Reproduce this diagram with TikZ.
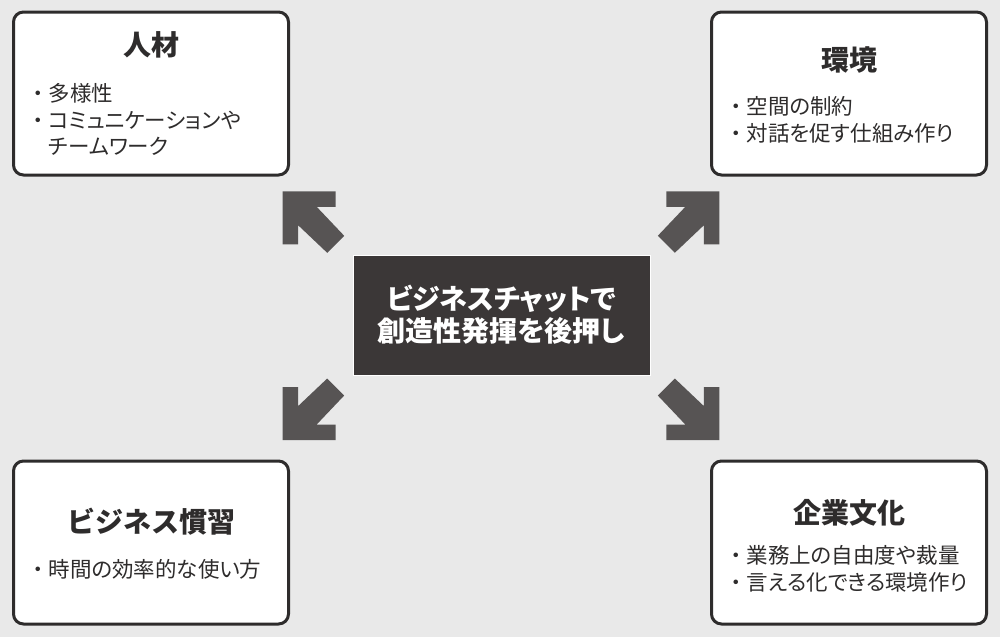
\documentclass[tikz,border=0pt]{standalone}
\usepackage{fontspec}
\usepackage{tikz}
\usetikzlibrary{positioning}
\newfontfamily\jpfont{Noto Sans CJK JP}
\newfontfamily\jpprop[RawFeature=+palt]{Noto Sans CJK JP}
\newcommand\itemDot{{\jpfont ・}}
\definecolor{bgColor}{HTML}{E9E9E9}
\definecolor{frameColor}{HTML}{2E2C2C}
\definecolor{arrowColor}{HTML}{575454}
\definecolor{coreColor}{HTML}{3B3737}

\tikzset{
  cornerArrow/.pic={
    \fill[arrowColor] (0,0) -- (53,0) -- (53,15.5) -- (34,15.5) -- (61.5,44.5)
      -- (44.5,61.5) -- (15.5,34) -- (15.5,53) -- (0,53) -- cycle;
  }
}

\begin{document}
\begin{tikzpicture}[x=1pt,y=-1pt]

          \tikzstyle{themeBox} = [draw=frameColor, line width=3pt, fill=white, rounded corners=10pt,
                                  minimum width=275pt, minimum height=163pt];
          \tikzstyle{coreBox} = [draw=white, line width=1pt, fill=coreColor,
                                 minimum width=297pt, minimum height=120pt];
          \tikzstyle{titleText} = [font=\jpfont\bfseries\fontsize{28}{32}\selectfont, frameColor, inner sep=0pt];
          \tikzstyle{itemText} = [font=\jpprop\fontsize{21.5}{26.5}\selectfont, frameColor, inner sep=0pt,
                                  anchor=west, align=left];
          \tikzstyle{coreText} = [font=\jpprop\bfseries\fontsize{28}{32}\selectfont, white, align=center];

          \fill[bgColor] (0,0) rectangle (1000,637);
          \useasboundingbox (0,0) rectangle (1000,637);

          % center
          \node[coreBox] (core) at (501.5,315) {};
          \node[coreText] (coreLabel) at (core.center) {ビジネスチャットで\\創造性発揮を後押し};

          % four themes
          \node[themeBox] (people) at (151,93.5) {};
          \node[themeBox] (place) at (849,93.5) {};
          \node[themeBox] (habit) at (151,542.5) {};
          \node[themeBox] (culture) at (849,542.5) {};

          \node[titleText] (peopleTitle) at ([yshift=49pt]people.center) {人材};
          \node[titleText] (placeTitle) at ([yshift=34pt]place.center) {環境};
          \node[titleText] (habitTitle) at ([yshift=21pt]habit.center) {ビジネス慣習};
          \node[titleText] (cultureTitle) at ([yshift=30pt]culture.center) {企業文化};

          \node[itemText] (peopleItems) at ([xshift=15pt,yshift=-26pt]people.west)
            {\itemDot 多様性\\\itemDot コミュニケーションや\\\hspace{1em}チームワーク};
          \node[itemText] (placeItems) at ([xshift=15pt,yshift=-26.5pt]place.west)
            {\itemDot 空間の制約\\\itemDot 対話を促す仕組み作り};
          \node[itemText] (habitItems) at ([xshift=15pt,yshift=-26.5pt]habit.west)
            {\itemDot 時間の効率的な使い方};
          \node[itemText] (cultureItems) at ([xshift=15pt,yshift=-26.5pt]culture.west)
            {\itemDot 業務上の自由度や裁量\\\itemDot 言える化できる環境作り};

          % arrows out of the center
          \pic at (282.7,191.3) {cornerArrow};
          \pic[xscale=-1] at (719.3,191.3) {cornerArrow};
          \pic[yscale=-1] at (282.7,440) {cornerArrow};
          \pic[xscale=-1,yscale=-1] at (719.3,440) {cornerArrow};
        \end{tikzpicture}
\end{document}
